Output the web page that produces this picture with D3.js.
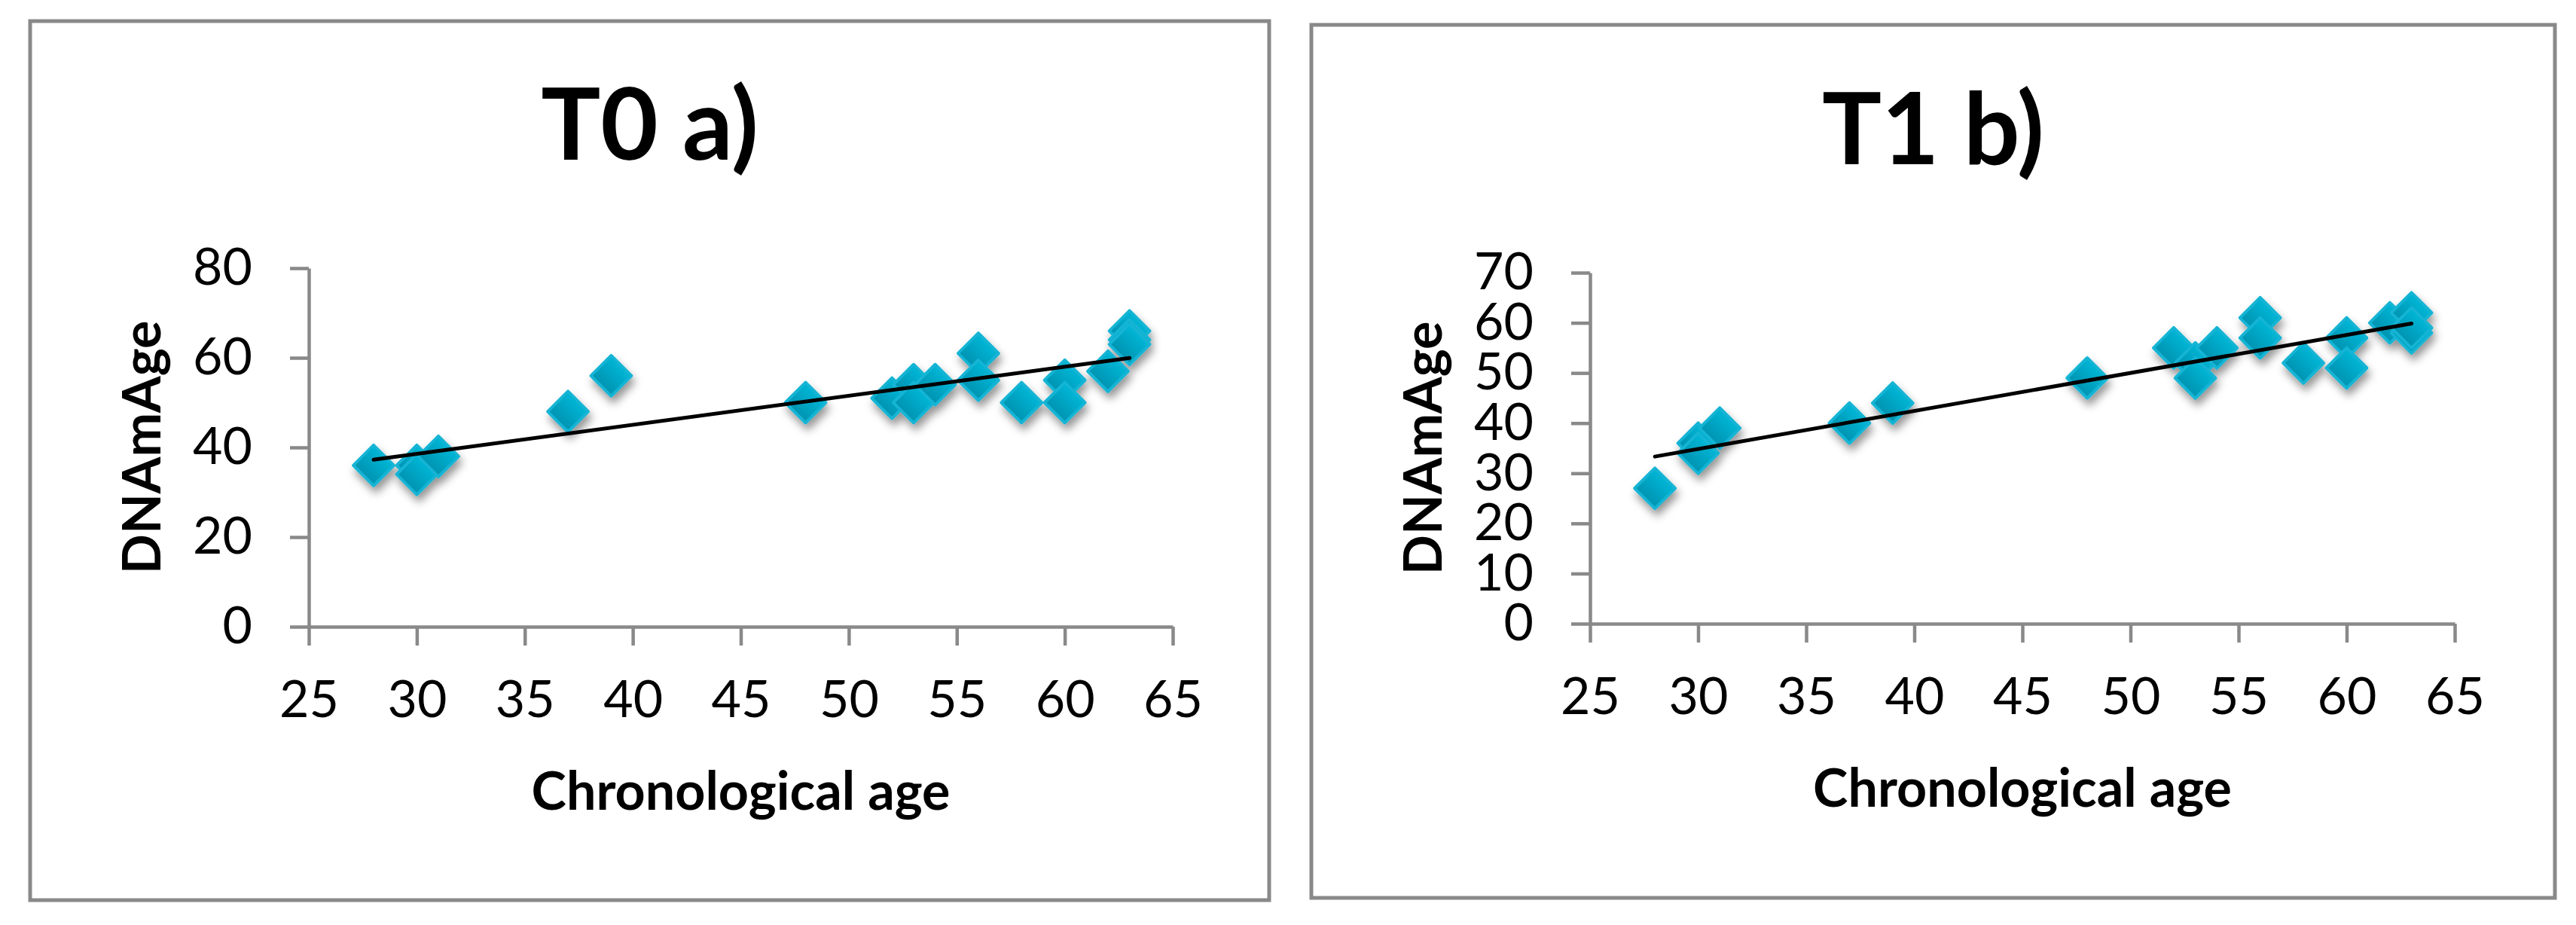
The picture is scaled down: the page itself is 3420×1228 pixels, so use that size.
<!DOCTYPE html>
<html>
<head>
<meta charset="utf-8">
<script src="https://cdn.jsdelivr.net/npm/d3@7"></script>
<style>
  body { margin: 0; background: #fff; }
  text { font-family: Lato, "Open Sans", sans-serif; fill: #000; }
</style>
</head>
<body>
<div id="chart"></div>
<script>
// values
var chronoAge = [28, 30, 30, 31, 37, 39, 48, 52, 53, 53, 54, 56, 56, 58, 60, 60, 62, 63, 63, 63];
var dnamAgeT0 = [36, 36, 34, 38, 48, 56, 50, 51, 54, 50, 54, 61, 55, 50, 55, 50, 57, 66, 64, 63];
var dnamAgeT1 = [27, 36, 34, 39, 40, 44, 49, 55, 52, 49, 55, 61, 57, 52, 57, 51, 60, 62, 58, 59];
var xTicks = [25, 30, 35, 40, 45, 50, 55, 60, 65];
var yTicksT0 = [0, 20, 40, 60, 80];
var yTicksT1 = [0, 10, 20, 30, 40, 50, 60, 70];
var titles = ["T0 a)", "T1 b)"];
var xLabel = "Chronological age";
var yLabel = "DNAmAge";

var svgWidth = 3420;
var svgHeight = 1228;

var axisColor = "#898989";

var panels = [
  { title: titles[0], values: dnamAgeT0, yTicks: yTicksT0,
    box: { x0: 40, y0: 28, x1: 1685, y1: 1195 },
    plot: { left: 410, right: 1557, top: 356, bottom: 832 }, titleY: 212 },
  { title: titles[1], values: dnamAgeT1, yTicks: yTicksT1,
    box: { x0: 1741, y0: 33, x1: 3392, y1: 1192 },
    plot: { left: 2111, right: 3259, top: 362, bottom: 828 }, titleY: 218 }
];

var svg = d3.select("#chart")
  .append("svg")
  .attr("width", svgWidth)
  .attr("height", svgHeight);

// gradient + shadow for the diamond markers
var defs = svg.append("defs");
var grad = defs.append("linearGradient")
  .attr("id", "diamondFill")
  .attr("x1", 0).attr("y1", 0).attr("x2", 0).attr("y2", 1);
grad.append("stop").attr("offset", "0%").attr("stop-color", "#00b6d6");
grad.append("stop").attr("offset", "100%").attr("stop-color", "#0093b1");

var shadow = defs.append("filter")
  .attr("id", "markerShadow")
  .attr("x", "-50%").attr("y", "-50%")
  .attr("width", "200%").attr("height", "200%");
shadow.append("feDropShadow")
  .attr("dx", 3)
  .attr("dy", 8)
  .attr("stdDeviation", 6)
  .attr("flood-color", "#000")
  .attr("flood-opacity", 0.42);

// least squares line through the points
function linearFit(xs, ys) {
  var mx = d3.mean(xs);
  var my = d3.mean(ys);
  var sxy = d3.sum(xs, (x, i) => (x - mx) * (ys[i] - my));
  var sxx = d3.sum(xs, x => (x - mx) * (x - mx));
  var slope = sxy / sxx;
  return { slope: slope, intercept: my - slope * mx };
}

var diamond = d3.symbol().type(d3.symbolSquare).size(1450);

panels.forEach(function(p) {
  var g = svg.append("g");

  // panel frame
  g.append("rect")
    .attr("x", p.box.x0)
    .attr("y", p.box.y0)
    .attr("width", p.box.x1 - p.box.x0)
    .attr("height", p.box.y1 - p.box.y0)
    .attr("fill", "#fff")
    .attr("stroke", axisColor)
    .attr("stroke-width", 5);

  var xScale = d3.scaleLinear()
    .domain([d3.min(xTicks), d3.max(xTicks)])
    .range([p.plot.left, p.plot.right]);

  var yScale = d3.scaleLinear()
    .domain([d3.min(p.yTicks), d3.max(p.yTicks)])
    .range([p.plot.bottom, p.plot.top]);

  var bottomAxis = d3.axisBottom(xScale)
    .tickValues(xTicks)
    .tickSize(25)
    .tickSizeOuter(0)
    .tickPadding(47);

  var leftAxis = d3.axisLeft(yScale)
    .tickValues(p.yTicks)
    .tickSize(25)
    .tickSizeOuter(0)
    .tickPadding(50);

  var xAxisG = g.append("g")
    .attr("transform", `translate(0, ${p.plot.bottom})`)
    .call(bottomAxis);

  var yAxisG = g.append("g")
    .attr("transform", `translate(${p.plot.left}, 0)`)
    .call(leftAxis);

  [xAxisG, yAxisG].forEach(function(ax) {
    ax.selectAll("path, line")
      .attr("stroke", axisColor)
      .attr("stroke-width", 4.5);
    ax.selectAll("text")
      .attr("font-family", "Lato, sans-serif")
      .attr("font-size", 68)
      .attr("fill", "#000");
  });

  // markers
  var pts = chronoAge.map((a, i) => ({ x: a, y: p.values[i] }));

  g.append("g")
    .attr("filter", "url(#markerShadow)")
    .selectAll("path")
    .data(pts)
    .enter()
    .append("path")
    .attr("d", diamond)
    .attr("transform", d => `translate(${xScale(d.x)}, ${yScale(d.y)}) rotate(45)`)
    .attr("fill", "url(#diamondFill)")
    .attr("stroke", "#12b4d4")
    .attr("stroke-width", 4)
    .attr("stroke-linejoin", "round");

  // linear trendline
  var fit = linearFit(chronoAge, p.values);
  var xExt = d3.extent(chronoAge);
  g.append("line")
    .attr("x1", xScale(xExt[0]))
    .attr("y1", yScale(fit.intercept + fit.slope * xExt[0]))
    .attr("x2", xScale(xExt[1]))
    .attr("y2", yScale(fit.intercept + fit.slope * xExt[1]))
    .attr("stroke", "#000")
    .attr("stroke-width", 5)
    .attr("stroke-linecap", "round");

  // title
  g.append("text")
    .attr("x", (p.box.x0 + p.box.x1) / 2)
    .attr("y", p.titleY)
    .attr("text-anchor", "middle")
    .attr("font-weight", "bold")
    .attr("font-size", 132)
    .text(p.title);

  // axis titles
  g.append("text")
    .attr("x", (p.plot.left + p.plot.right) / 2)
    .attr("y", p.plot.bottom + 243)
    .attr("text-anchor", "middle")
    .attr("font-weight", "bold")
    .attr("font-size", 70)
    .text(xLabel);

  g.append("text")
    .attr("transform", `translate(${p.plot.left - 197}, ${(p.plot.top + p.plot.bottom) / 2}) rotate(-90)`)
    .attr("text-anchor", "middle")
    .attr("font-weight", "bold")
    .attr("font-size", 70)
    .text(yLabel);
});
</script>
</body>
</html>
